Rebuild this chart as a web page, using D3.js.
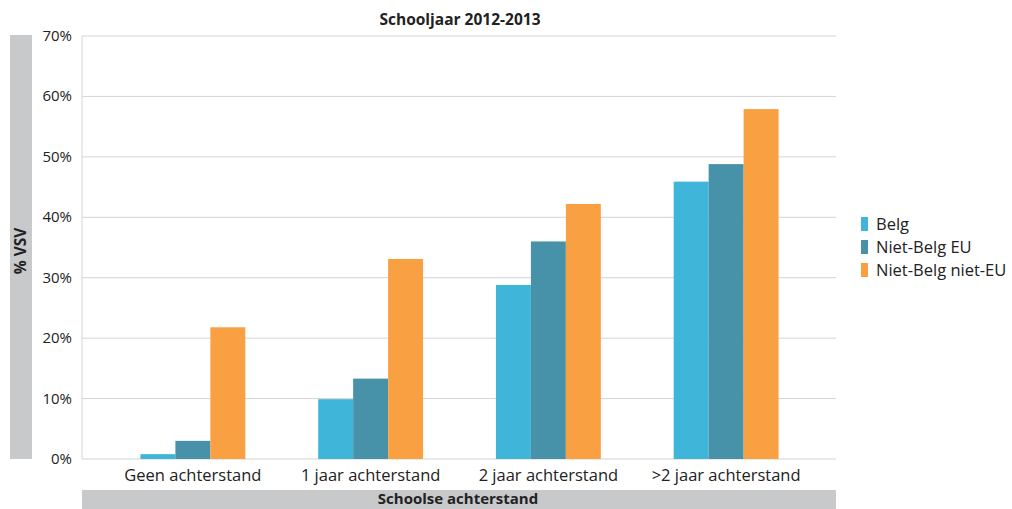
<!DOCTYPE html>
<html>
<head>
<meta charset="utf-8">
<script src="https://cdn.jsdelivr.net/npm/d3@7"></script>
<style>
  body { margin: 0; background: #fff; }
  text { font-family: "Open Sans", "Noto Sans", sans-serif; fill: #222; }
</style>
</head>
<body>
<div id="chart"></div>
<script>
// data
const categories = ["Geen achterstand", "1 jaar achterstand", "2 jaar achterstand", ">2 jaar achterstand"];
const seriesNames = ["Belg", "Niet-Belg EU", "Niet-Belg niet-EU"];
const belg = [0.8, 9.9, 28.8, 45.9];
const nietBelgEU = [3.0, 13.3, 36.0, 48.8];
const nietBelgNietEU = [21.8, 33.1, 42.2, 57.9];
const yTicks = [0, 10, 20, 30, 40, 50, 60, 70];
const colors = ["#3fb6d9", "#4792a9", "#f9a043"];

const seriesValues = [belg, nietBelgEU, nietBelgNietEU];

const width = 1012, height = 509;
const margin = { left: 82, right: 176, top: 36, bottom: 50 };

const svg = d3.select("#chart").append("svg")
    .attr("width", width)
    .attr("height", height);

let x = d3.scaleBand()
    .domain(categories)
    .range([104, 815])
    .paddingInner(0.41)
    .paddingOuter(0.205);

let xInner = d3.scaleBand()
    .domain(seriesNames)
    .range([0, x.bandwidth()]);

let y = d3.scaleLinear()
    .domain([0, 70])
    .range([height - margin.bottom, margin.top]);

//grid lines
svg.append("g")
    .selectAll("line")
    .data(yTicks)
    .enter()
    .append("line")
    .attr("x1", margin.left)
    .attr("x2", width - margin.right)
    .attr("y1", d => y(d))
    .attr("y2", d => y(d))
    .style("stroke", "#d4d4d4")
    .style("stroke-width", 1);

// left axis line
svg.append("line")
    .attr("x1", margin.left).attr("x2", margin.left)
    .attr("y1", y(70)).attr("y2", y(0))
    .style("stroke", "#d4d4d4");

// y tick labels
svg.append("g")
    .selectAll("text")
    .data(yTicks)
    .enter()
    .append("text")
    .attr("x", 72)
    .attr("y", d => y(d) + 5)
    .attr("text-anchor", "end")
    .style("font-size", "15px")
    .text(d => d + "%");

// bars
seriesNames.forEach((s, si) => {
    svg.append("g")
        .selectAll("rect")
        .data(seriesValues[si])
        .enter()
        .append("rect")
        .attr("x", (d, i) => x(categories[i]) + xInner(s))
        .attr("y", d => y(d))
        .attr("width", xInner.bandwidth())
        .attr("height", d => y(0) - y(d))
        .style("fill", colors[si]);
});

// x labels
svg.append("g")
    .selectAll("text")
    .data(categories)
    .enter()
    .append("text")
    .attr("x", d => x(d) + x.bandwidth() / 2)
    .attr("y", 481)
    .attr("text-anchor", "middle")
    .style("font-size", "16.5px")
    .text(d => d);

// title
svg.append("text")
    .attr("x", 460)
    .attr("y", 25)
    .attr("text-anchor", "middle")
    .style("font-size", "15.5px")
    .style("font-weight", "bold")
    .text("Schooljaar 2012-2013");

// x axis title band
svg.append("rect")
    .attr("x", margin.left).attr("y", 490)
    .attr("width", width - margin.right - margin.left).attr("height", 19)
    .style("fill", "#c8c9cb");
svg.append("text")
    .attr("x", 458)
    .attr("y", 504)
    .attr("text-anchor", "middle")
    .style("font-size", "15px")
    .style("font-weight", "bold")
    .text("Schoolse achterstand");

// y axis title band
svg.append("rect")
    .attr("x", 10).attr("y", 35)
    .attr("width", 22).attr("height", y(0) - 35)
    .style("fill", "#c8c9cb");
svg.append("text")
    .attr("transform", "translate(26," + 251 + ") rotate(-90)")
    .attr("text-anchor", "middle")
    .style("font-size", "15.5px")
    .style("font-weight", "bold")
    .text("% VSV");

// legend
let legend = svg.append("g")
    .selectAll("g")
    .data(seriesNames)
    .enter()
    .append("g")
    .attr("transform", (d, i) => "translate(861," + (217 + i * 23) + ")");
legend.append("rect")
    .attr("width", 7).attr("height", 14)
    .style("fill", (d, i) => colors[i]);
legend.append("text")
    .attr("x", 15).attr("y", 13)
    .style("font-size", "16.5px")
    .text(d => d);
</script>
</body>
</html>
